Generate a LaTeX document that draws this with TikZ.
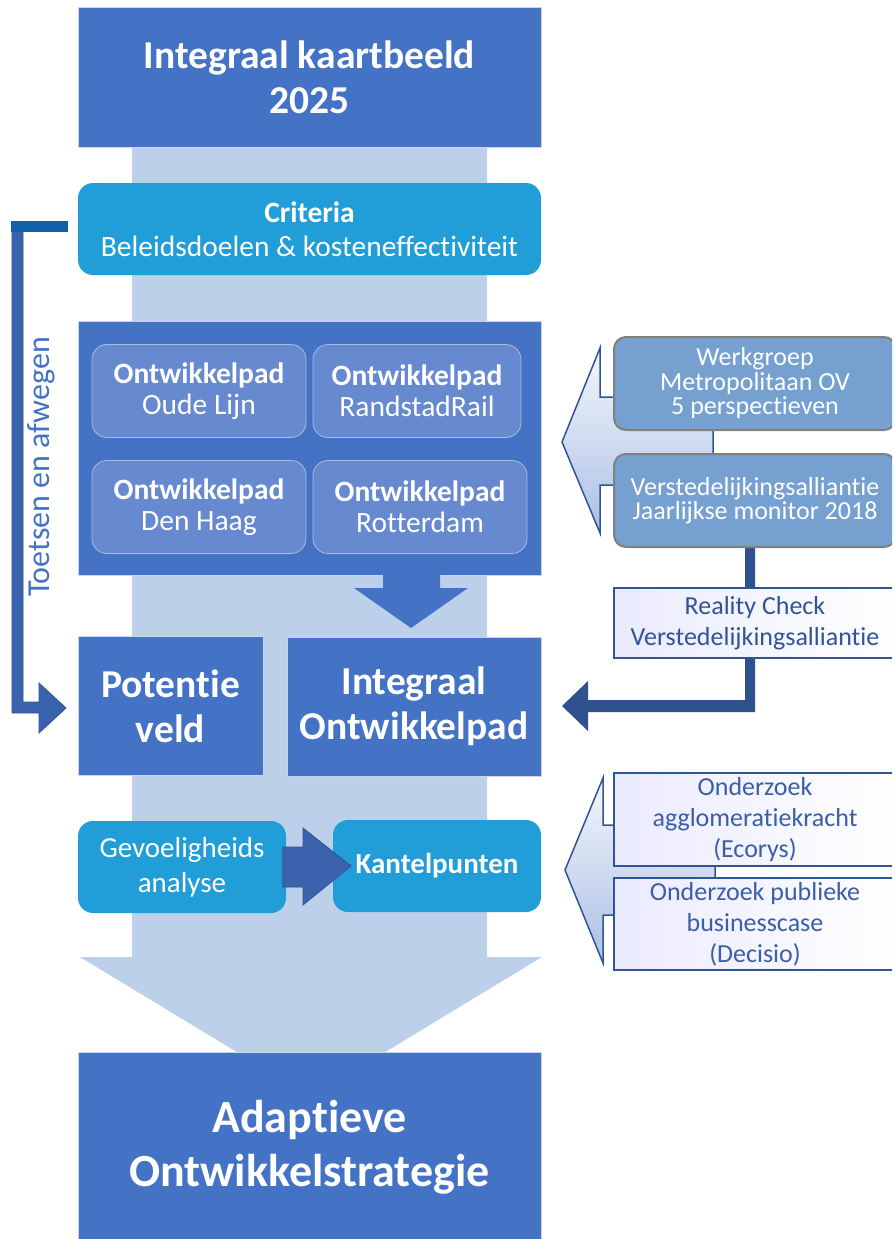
\documentclass[tikz,border=0pt]{standalone}
\usepackage{fontspec}
\setmainfont{Carlito}[Ligatures=NoCommon]
\usetikzlibrary{calc}
\definecolor{dblue}{HTML}{4472C4}
\definecolor{lcol}{HTML}{BDD0E9}
\definecolor{cyanb}{HTML}{219DD8}
\definecolor{innerb}{HTML}{6789CF}
\definecolor{innerline}{HTML}{A9BCE2}
\definecolor{steelb}{HTML}{75A0D0}
\definecolor{navy}{HTML}{2F528F}
\definecolor{edgeb}{HTML}{2F5597}
\definecolor{txtb}{HTML}{3B5EA8}
\definecolor{arrowb}{HTML}{3A62AD}
\definecolor{barb}{HTML}{0F5FAA}
\definecolor{boxedge}{HTML}{C9D3E6}
\newcommand{\fsz}[2]{\fontsize{#1}{#2}\selectfont}
\begin{document}
\begin{tikzpicture}[x=1pt,y=-1pt,
  bigbox/.style={fill=dblue, draw=boxedge, line width=0.7pt, text=white, inner sep=0pt, align=center},
  cbox/.style={fill=cyanb, rounded corners=15pt, text=white, inner sep=0pt, align=center},
  ibox/.style={fill=innerb, draw=innerline, line width=0.8pt, rounded corners=15pt, text=white, inner sep=0pt, align=center, font=\fsz{29.5}{30.5}},
  sbox/.style={fill=steelb, draw=gray, line width=2pt, rounded corners=12pt, text=white, inner sep=0pt, align=center, font=\fsz{26}{24.5}},
  wbox/.style={left color=blue!8!white, right color=white, draw=edgeb, line width=1.6pt, text=edgeb, inner sep=0pt, align=center, font=\fsz{26}{31}},
  chev/.style={top color=white!94!dblue, bottom color=dblue!45!white, draw=edgeb, line width=1.5pt},
  blockarrow/.style={fill=arrowb, draw=edgeb, line width=0.8pt}
]
\clip (0,0) rectangle (892,1239);
\fill[white] (0,0) rectangle (892,1239);

% light background column with arrow head
\fill[lcol] (132,140) -- (487,140) -- (487,957) -- (542,957) -- (311,1097) -- (80,957) -- (132,957) -- cycle;

% main column
\node[bigbox, minimum width=463, minimum height=140, font=\fsz{39.5}{45}\bfseries] (top) at (309.5,77)
  {Integraal kaartbeeld\\2025};
\node[cbox, minimum width=463, minimum height=92, font=\fsz{29.5}{34}] (crit) at (309.5,229)
  {\textbf{Criteria}\\Beleidsdoelen \& kosteneffectiviteit};
\node[bigbox, minimum width=463, minimum height=254] (panel) at (309.5,448) {};
\node[ibox, minimum width=214, minimum height=93] (oude) at (199,391) {\textbf{Ontwikkelpad}\\Oude Lijn};
\node[ibox, minimum width=208, minimum height=93] (rr) at (417,391) {\textbf{Ontwikkelpad}\\RandstadRail};
\node[ibox, minimum width=214, minimum height=93] (dh) at (199,507) {\textbf{Ontwikkelpad}\\Den Haag};
\node[ibox, minimum width=214, minimum height=93] (rdam) at (420,507) {\textbf{Ontwikkelpad}\\Rotterdam};

% down arrow from panel
\fill[dblue] (383,574) -- (440,574) -- (440,588) -- (468,588) -- (411,628) -- (354,588) -- (383,588) -- cycle;

\node[bigbox, minimum width=185, minimum height=139, font=\fsz{39.5}{45}\bfseries] (pot) at (170.5,706)
  {Potentie\\veld};
\node[bigbox, minimum width=254, minimum height=139, font=\fsz{39.5}{45}\bfseries] (iop) at (414,706.5)
  {Integraal\\Ontwikkelpad};

\node[cbox, minimum width=208, minimum height=92, font=\fsz{29}{35}] (gev) at (182,867)
  {Gevoeligheids\\analyse};
\node[cbox, minimum width=208, minimum height=92, font=\fsz{29}{34}\bfseries] (kant) at (437,866)
  {Kantelpunten};
\draw[blockarrow] (282,847) -- (303,847) -- (303,828) -- (351,866) -- (303,905) -- (303,887) -- (282,887);

\node[bigbox, minimum width=463, minimum height=190, font=\fsz{46}{54}\bfseries] (adapt) at (309.5,1147)
  {Adaptieve\\Ontwikkelstrategie};

% left feedback arrow
\fill[barb] (11,221) rectangle (68,232);
\draw[blockarrow] (12,232) -- (23,232) -- (23,702) -- (39,702) -- (39,683) -- (66,708) -- (39,733) -- (39,713) -- (12,713) -- cycle;
\node[rotate=90, anchor=base, text=dblue, font=\fsz{32}{38}, inner sep=0pt] (toets) at (49,467) {Toetsen en afwegen};

% right upper group
\draw[chev] (562,442) -- (600,348) -- (600,397) -- (713,397) -- (713,485) -- (600,485) -- (600,533) -- cycle;
\fill[navy] (745,540) -- (755,540) -- (755,712) -- (588,712) -- (588,731) -- (562,706) -- (588,681) -- (588,700) -- (745,700) -- cycle;
\node[sbox, minimum width=282, minimum height=93] (werk) at (755,383.5)
  {Werkgroep\\Metropolitaan OV\\5 perspectieven};
\node[sbox, minimum width=282, minimum height=93] (vers) at (755,500.5)
  {Verstedelijkingsalliantie\\Jaarlijkse monitor 2018};
\node[wbox, minimum width=282, minimum height=70] (rc) at (755,623)
  {Reality Check\\Verstedelijkingsalliantie};

% right lower group
\draw[chev] (565,870) -- (603,778) -- (603,825) -- (715,825) -- (715,915) -- (603,915) -- (603,963) -- cycle;
\node[wbox, text=txtb, minimum width=282, minimum height=93] (ecor) at (755,819.5)
  {Onderzoek\\agglomeratiekracht\\(Ecorys)};
\node[wbox, text=txtb, minimum width=282, minimum height=92] (dec) at (755,924)
  {Onderzoek publieke\\businesscase\\(Decisio)};
\end{tikzpicture}
\end{document}
